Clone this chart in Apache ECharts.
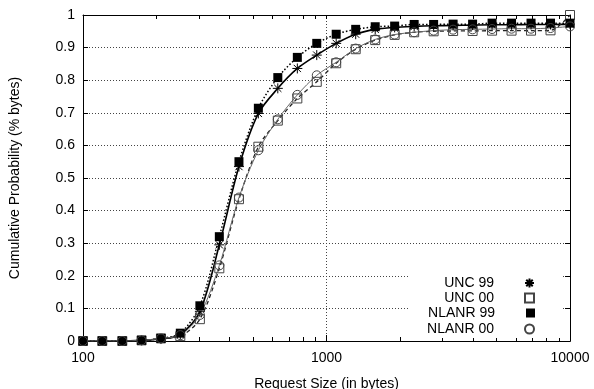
<!DOCTYPE html>
<html>
<head>
<meta charset="utf-8">
<script src="https://cdn.jsdelivr.net/npm/echarts@6/dist/echarts.min.js"></script>
<style>html,body{margin:0;padding:0;background:#fff}#chart{width:594px;height:389px}</style>
</head>
<body>
<div id="chart"></div>
<script>
// request sizes (bytes)
var sizes = [100, 120, 145, 174, 209, 251, 302, 363, 437, 525, 631, 759, 912, 1096, 1318, 1585, 1905, 2291, 2754, 3311, 3981, 4786, 5754, 6918, 8318, 10000];

var unc99   = [0, 0, 0, 0.002, 0.006, 0.02, 0.09, 0.295, 0.535, 0.698, 0.775, 0.836, 0.877, 0.913, 0.941, 0.956, 0.962, 0.965, 0.967, 0.968, 0.969, 0.97, 0.97, 0.971, 0.971, 0.972];
var unc00   = [0, 0, 0, 0.002, 0.008, 0.015, 0.067, 0.223, 0.435, 0.596, 0.676, 0.744, 0.795, 0.852, 0.895, 0.923, 0.939, 0.947, 0.95, 0.951, 0.951, 0.952, 0.952, 0.952, 0.953, 1.0];
var nlanr99 = [0, 0, 0, 0.002, 0.008, 0.024, 0.108, 0.32, 0.55, 0.714, 0.808, 0.87, 0.913, 0.941, 0.956, 0.964, 0.966, 0.971, 0.971, 0.972, 0.972, 0.975, 0.975, 0.975, 0.975, 0.975];
var nlanr00 = [0, 0, 0, 0.002, 0.008, 0.018, 0.08, 0.232, 0.44, 0.585, 0.68, 0.755, 0.815, 0.855, 0.897, 0.925, 0.94, 0.947, 0.952, 0.955, 0.956, 0.957, 0.958, 0.958, 0.96, 0.965];

var minorTicks = [200, 300, 400, 500, 600, 700, 800, 900, 2000, 3000, 4000, 5000, 6000, 7000, 8000, 9000];
var allTicks = [100, 200, 300, 400, 500, 600, 700, 800, 900, 1000, 2000, 3000, 4000, 5000, 6000, 7000, 8000, 9000, 10000];

function pairs(vals) {
    var out = [];
    for (var i = 0; i < sizes.length; i++) out.push([sizes[i], vals[i]]);
    return out;
}

var FONT = 'Liberation Sans';
var star = 'path://M0,-5L0,5M-5,0L5,0M-3.6,-3.6L3.6,3.6M-3.6,3.6L3.6,-3.6';
var symbols = {'UNC 99': star, 'UNC 00': 'rect', 'NLANR 99': 'rect', 'NLANR 00': 'circle'};

var chart = echarts.init(document.getElementById('chart'));

function legendAt(name, top) {
    return {
        data: [{name: name, icon: symbols[name]}], right: 59, top: top, align: 'right', orient: 'vertical',
        itemWidth: 9, itemHeight: 9, padding: 0, selectedMode: false,
        textStyle: {fontFamily: FONT, fontSize: 14, color: '#000', padding: [0, 26, 0, 0]}
    };
}

function plainAxis(pos, ticks) {
    return {
        type: 'log', logBase: 10, min: 100, max: 10000, position: pos,
        axisLine: {lineStyle: {color: '#000', width: 1}},
        axisTick: {inside: true, length: 4, customValues: ticks, lineStyle: {color: '#000'}},
        axisLabel: {show: false},
        splitLine: {show: false}
    };
}

var option = {
    animation: false,
    legend: [legendAt('UNC 99', 276), legendAt('UNC 00', 291), legendAt('NLANR 99', 306), legendAt('NLANR 00', 322)],
    grid: {left: 83, right: 24, top: 15, bottom: 48, outerBoundsMode: 'none'},
    // white box behind the key, like the original
    graphic: [{type: 'rect', left: 410, top: 266, z: 1, silent: true,
        shape: {width: 153, height: 72}, style: {fill: '#fff'}}],
    xAxis: [{
        type: 'log', logBase: 10, min: 100, max: 10000,
        name: 'Request Size (in bytes)', nameLocation: 'middle', nameGap: 36,
        nameTextStyle: {fontFamily: FONT, fontSize: 14, color: '#000'},
        axisLine: {lineStyle: {color: '#000', width: 1}},
        axisTick: {inside: true, length: 6, lineStyle: {color: '#000'}},
        axisLabel: {fontFamily: FONT, fontSize: 14, color: '#000', margin: 10,
            formatter: function (v) { return String(Math.round(v)); }},
        splitLine: {show: true, lineStyle: {type: [1, 2], color: '#444'}}
    }, plainAxis('bottom', minorTicks), plainAxis('top', allTicks)],
    yAxis: [{
        type: 'value', min: 0, max: 1, interval: 0.1,
        name: 'Cumulative Probability (% bytes)', nameLocation: 'middle', nameGap: 61,
        nameTextStyle: {fontFamily: FONT, fontSize: 14, color: '#000'},
        axisLine: {show: true, lineStyle: {color: '#000', width: 1}},
        axisTick: {show: true, inside: true, length: 5, lineStyle: {color: '#000'}},
        axisLabel: {fontFamily: FONT, fontSize: 14, color: '#000', margin: 8,
            formatter: function (v) { return +v.toFixed(1) + ''; }},
        splitLine: {show: true, lineStyle: {type: [1, 2], color: '#444'}}
    }, {
        type: 'value', min: 0, max: 1, interval: 0.1, position: 'right',
        axisLine: {show: true, lineStyle: {color: '#000', width: 1}},
        axisTick: {show: true, inside: true, length: 5, lineStyle: {color: '#000'}},
        axisLabel: {show: false},
        splitLine: {show: false}
    }],
    series: [{
        name: 'UNC 99', type: 'line', smooth: 0.3, data: pairs(unc99),
        symbol: star, symbolSize: 10,
        lineStyle: {color: '#000', width: 1.6},
        itemStyle: {color: 'transparent', borderColor: '#000', borderWidth: 1}
    }, {
        name: 'UNC 00', type: 'line', smooth: 0.3, data: pairs(unc00),
        symbol: 'rect', symbolSize: 9,
        lineStyle: {color: '#222', width: 1.3, type: [4, 3]},
        itemStyle: {color: 'transparent', borderColor: '#444', borderWidth: 1}
    }, {
        name: 'NLANR 99', type: 'line', smooth: 0.3, data: pairs(nlanr99),
        symbol: 'rect', symbolSize: 9,
        lineStyle: {color: '#000', width: 1.5, type: [1.5, 2]},
        itemStyle: {color: '#000', borderColor: '#000', borderWidth: 0}
    }, {
        name: 'NLANR 00', type: 'line', smooth: 0.3, data: pairs(nlanr00),
        symbol: 'circle', symbolSize: 9,
        lineStyle: {color: '#666', width: 1},
        itemStyle: {color: 'transparent', borderColor: '#444', borderWidth: 1}
    }]
};

chart.setOption(option);
</script>
</body>
</html>
